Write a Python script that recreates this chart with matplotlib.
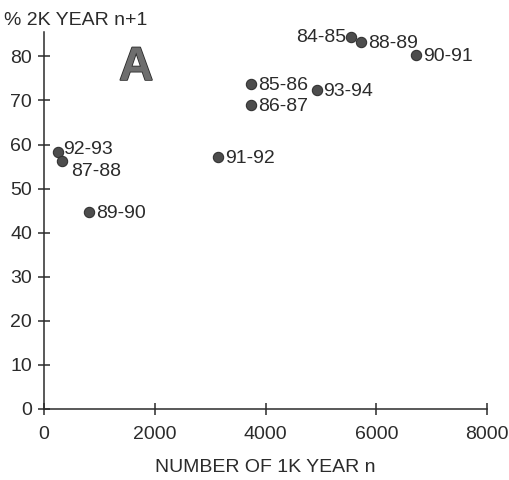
import matplotlib.pyplot as plt
import matplotlib.patheffects as pe

plt.rcParams["font.family"] = ["Liberation Sans", "DejaVu Sans"]

# seasons: number of 1K in year n vs. % of 2K in year n+1
seasons = ["84-85", "88-89", "90-91", "85-86", "93-94", "86-87",
           "91-92", "92-93", "87-88", "89-90"]
n_1k = [5550, 5720, 6710, 3740, 4920, 3740, 3140, 250, 330, 820]
pct_2k = [84.5, 83.2, 80.4, 73.8, 72.4, 69.0, 57.2, 58.3, 56.3, 44.7]

# label placement per point: (dx, dy) in points, horizontal alignment
label_pos = {
    "84-85": (-4, -1, "right"),
    "92-93": (4, 2, "left"),
    "87-88": (6, -8, "left"),
}

ink = "#2b2b2b"
fs = 14

fig = plt.figure(figsize=(5.1, 4.8), dpi=100)
ax = fig.add_axes([0.0863, 0.148, 0.869, 0.785])

ax.scatter(n_1k, pct_2k, s=55, color="#4d4d4d", edgecolors="#333333",
           linewidths=0.8, zorder=3, clip_on=False)

for name, x, y in zip(seasons, n_1k, pct_2k):
    dx, dy, ha = label_pos.get(name, (5, -1, "left"))
    ax.annotate(name, (x, y), xytext=(dx, dy), textcoords="offset points",
                ha=ha, va="center", fontsize=fs, color=ink)

ax.set_xlim(0, 8000)
ax.set_ylim(0, 85.5)
ax.set_xticks([0, 2000, 4000, 6000, 8000])
ax.set_yticks(range(0, 81, 10))

for side in ("top", "right"):
    ax.spines[side].set_visible(False)
for side in ("left", "bottom"):
    ax.spines[side].set_color(ink)
    ax.spines[side].set_linewidth(1.1)

ax.tick_params(axis="both", direction="inout", length=9, width=1.1,
               color=ink, labelcolor=ink, labelsize=fs)
ax.tick_params(axis="y", pad=4)
ax.tick_params(axis="x", pad=8)

ax.set_xlabel("NUMBER OF 1K YEAR n", fontsize=fs, color=ink, labelpad=11)
fig.text(0.008, 0.958, "% 2K YEAR n+1", fontsize=fs, color=ink,
         ha="left", va="center")

# panel letter
ax.text(0.208, 0.905, "A", transform=ax.transAxes, fontsize=34,
        fontweight="bold", color="#6e6e6e", ha="center", va="center",
        path_effects=[pe.withStroke(linewidth=1.2, foreground="#2a2a2a")])

fig.savefig("out.png", dpi=100)
